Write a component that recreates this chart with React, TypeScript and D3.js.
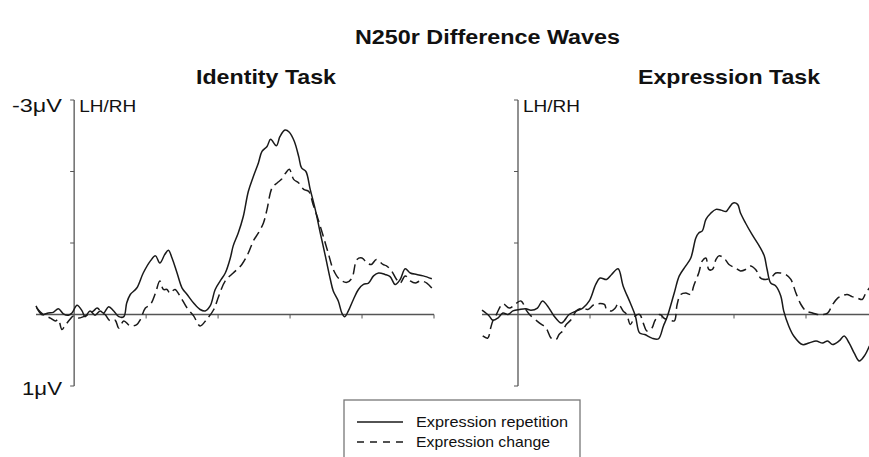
import React from "react";
import * as d3 from "d3";

// amplitudes in microvolts (negative plotted up), time in ms
const identityRepetition: [number, number][] = [
  [-53, -0.12], [-45, 0], [-36, -0.02], [-29, -0.03], [-22, -0.08], [-15, -0.01], [-8, 0.01], [-3, -0.02],
  [4, -0.13], [11, -0.05], [15, 0.03], [22, -0.05], [29, 0.01], [36, -0.05], [41, -0.02], [48, -0.11],
  [55, -0.05], [62, 0.03], [69, 0.03], [73, -0.16], [78, -0.28], [87, -0.37], [96, -0.58], [106, -0.75],
  [113, -0.82], [119, -0.72], [126, -0.84], [131, -0.9], [136, -0.79], [143, -0.58], [150, -0.37], [157, -0.28],
  [166, -0.16], [175, -0.07], [182, -0.05], [189, -0.12], [196, -0.35], [203, -0.47], [210, -0.58], [217, -0.79],
  [221, -0.96], [228, -1.14], [235, -1.37], [242, -1.72], [249, -1.93], [256, -2.12], [261, -2.28], [268, -2.35],
  [273, -2.45], [281, -2.36], [286, -2.49], [293, -2.58], [299, -2.55], [306, -2.42], [312, -2.21], [316, -2.05],
  [322, -2.0], [328, -1.75], [335, -1.47], [342, -1.14], [349, -0.82], [356, -0.49], [360, -0.33], [367, -0.19],
  [372, -0.02], [376, 0.03], [381, -0.05], [388, -0.21], [395, -0.35], [402, -0.42], [409, -0.44], [416, -0.54],
  [423, -0.58], [432, -0.56], [439, -0.53], [446, -0.42], [453, -0.49], [460, -0.64], [467, -0.58], [476, -0.56],
  [485, -0.54], [497, -0.5],
];

const identityChange: [number, number][] = [
  [-52, -0.09], [-43, 0], [-33, 0.05], [-26, 0.09], [-22, 0.07], [-17, 0.21], [-13, 0.16], [-6, 0.07],
  [-1, 0.02], [6, 0.05], [13, 0.03], [20, 0], [27, -0.05], [32, -0.09], [39, -0.02], [43, 0],
  [50, 0.09], [57, 0.08], [62, 0.19], [69, 0.09], [78, 0.16], [87, 0.14], [92, 0.07], [99, -0.09],
  [106, -0.14], [113, -0.3], [119, -0.47], [124, -0.35], [129, -0.35], [133, -0.3], [140, -0.35], [147, -0.26],
  [157, -0.09], [166, 0.02], [175, 0.16], [184, 0.07], [194, -0.07], [201, -0.26], [210, -0.47], [221, -0.58],
  [233, -0.7], [242, -0.86], [249, -1.03], [256, -1.14], [263, -1.28], [268, -1.47], [275, -1.77], [282, -1.84],
  [288, -1.89], [294, -1.98], [299, -2.03], [305, -1.89], [312, -1.84], [319, -1.75], [326, -1.72], [332, -1.54],
  [339, -1.33], [346, -1.1], [353, -0.86], [360, -0.63], [369, -0.49], [379, -0.45], [386, -0.51], [393, -0.77],
  [400, -0.79], [407, -0.72], [413, -0.7], [420, -0.77], [429, -0.7], [434, -0.68], [441, -0.61], [448, -0.49],
  [453, -0.44], [460, -0.54], [467, -0.47], [474, -0.44], [481, -0.47], [490, -0.44], [497, -0.37],
];

const expressionRepetition: [number, number][] = [
  [-50, -0.06], [-40, 0.02], [-35, 0.08], [-28, 0.05], [-21, -0.02], [-14, 0], [-7, -0.05], [2, -0.07],
  [11, -0.08], [18, -0.06], [27, -0.09], [34, -0.19], [41, -0.12], [50, 0.02], [60, 0.12], [64, 0.09],
  [71, 0], [81, -0.05], [90, -0.09], [99, -0.19], [108, -0.42], [114, -0.51], [123, -0.49], [130, -0.56],
  [139, -0.64], [146, -0.4], [156, -0.16], [163, 0.02], [169, 0.26], [176, 0.28], [186, 0.33], [195, 0.34],
  [202, 0.16], [207, 0.04], [217, -0.3], [224, -0.54], [233, -0.68], [240, -0.79], [247, -1.07], [251, -1.14],
  [256, -1.17], [261, -1.33], [268, -1.42], [275, -1.47], [282, -1.46], [289, -1.44], [293, -1.49], [299, -1.56],
  [305, -1.54], [309, -1.42], [316, -1.28], [325, -1.12], [335, -0.96], [342, -0.82], [346, -0.63], [351, -0.44],
  [358, -0.4], [365, -0.26], [369, -0.05], [376, 0.16], [383, 0.3], [395, 0.42], [404, 0.4], [414, 0.37],
  [423, 0.4], [430, 0.37], [437, 0.42], [446, 0.37], [453, 0.3], [460, 0.4], [467, 0.54], [474, 0.65],
  [481, 0.58], [488, 0.44],
];

const expressionChange: [number, number][] = [
  [-49, 0.3], [-42, 0.33], [-38, 0.19], [-35, 0.09], [-31, 0.02], [-21, -0.15], [-12, -0.09], [4, -0.19],
  [11, -0.07], [16, 0], [30, 0.12], [39, 0.19], [46, 0.33], [53, 0.35], [57, 0.28], [62, 0.23],
  [67, 0.14], [74, 0.07], [81, -0.05], [90, -0.09], [97, -0.07], [106, -0.14], [120, -0.14], [123, -0.07],
  [130, -0.05], [135, -0.09], [139, -0.15], [146, -0.05], [151, 0], [156, 0.14], [163, 0.02], [169, 0],
  [174, 0.12], [179, 0.23], [186, 0.19], [190, 0.09], [197, 0], [204, 0.06], [210, 0.07], [217, 0.09],
  [221, -0.14], [226, -0.28], [233, -0.3], [240, -0.28], [244, -0.4], [251, -0.58], [256, -0.75], [261, -0.79],
  [265, -0.63], [270, -0.63], [275, -0.77], [279, -0.82], [286, -0.79], [293, -0.7], [302, -0.65], [309, -0.61],
  [316, -0.63], [323, -0.68], [330, -0.63], [337, -0.51], [344, -0.49], [351, -0.51], [358, -0.58], [365, -0.58],
  [372, -0.56], [379, -0.49], [386, -0.3], [393, -0.14], [400, -0.05], [409, -0.02], [416, 0], [423, 0],
  [430, -0.02], [437, -0.14], [444, -0.23], [450, -0.26], [457, -0.28], [464, -0.25], [471, -0.23], [478, -0.21],
  [483, -0.3], [488, -0.37],
];

const timeTicks = [100, 200, 300, 400, 500];
const voltTicks = [-3, -2, -1, 1];
const seriesNames = ["Expression repetition", "Expression change"];

const W = 869;
const H = 457;
const ink = "#1a1a1a";
const axisColor = "#555";
const font = "Liberation Sans, Arial, sans-serif";

const y = d3.scaleLinear().domain([-3, 1]).range([100, 386]);

const panels = [
  {
    title: "Identity Task",
    titleX: 196,
    titleW: 140,
    x: d3.scaleLinear().domain([-53, 500]).range([36, 434]),
    rep: identityRepetition,
    chg: identityChange,
    showVolts: true,
  },
  {
    title: "Expression Task",
    titleX: 638,
    titleW: 182,
    x: d3.scaleLinear().domain([-50, 500]).range([482, 878]),
    rep: expressionRepetition,
    chg: expressionChange,
    showVolts: false,
  },
];

function Panel({ p }: { p: (typeof panels)[number] }) {
  const x = p.x;
  const line = d3
    .line<[number, number]>()
    .x((d) => x(d[0]))
    .y((d) => y(d[1]))
    .curve(d3.curveCatmullRom.alpha(0.5));
  const x0 = x(0);
  const [d0, d1] = x.domain();
  return (
    <g>
      <text
        x={p.titleX}
        y={84}
        fontFamily={font}
        fontWeight="bold"
        fontSize={21}
        textLength={p.titleW}
        lengthAdjust="spacingAndGlyphs"
        fill="#111"
      >
        {p.title}
      </text>
      {/* zero line */}
      <line x1={x(d0)} x2={x(d1)} y1={y(0)} y2={y(0)} stroke={axisColor} strokeWidth={1.6} />
      {timeTicks.map((t) => (
        <line key={t} x1={x(t)} x2={x(t)} y1={y(0)} y2={y(0) + 4} stroke={axisColor} strokeWidth={1} />
      ))}
      {/* amplitude axis */}
      <line x1={x0} x2={x0} y1={y(-3)} y2={y(1)} stroke={axisColor} strokeWidth={1.3} />
      {voltTicks.map((v) => (
        <line key={v} x1={x0 - 4} x2={x0} y1={y(v)} y2={y(v)} stroke={axisColor} strokeWidth={1} />
      ))}
      <text x={x0 + 5} y={112} fontFamily={font} fontSize={17} textLength={57} lengthAdjust="spacingAndGlyphs" fill="#111">
        LH/RH
      </text>
      {p.showVolts && (
        <>
          <text x={12} y={112} fontFamily={font} fontSize={19} textLength={50} lengthAdjust="spacingAndGlyphs" fill="#111">
            -3μV
          </text>
          <text x={22} y={395} fontFamily={font} fontSize={19} textLength={40} lengthAdjust="spacingAndGlyphs" fill="#111">
            1μV
          </text>
        </>
      )}
      <path d={line(p.chg) ?? ""} fill="none" stroke={ink} strokeWidth={1.5} strokeDasharray="10,5" />
      <path d={line(p.rep) ?? ""} fill="none" stroke={ink} strokeWidth={1.5} />
    </g>
  );
}

export default function App() {
  return (
    <svg
      width={W}
      height={H}
      viewBox={`0 0 ${W} ${H}`}
      style={{ position: "absolute", left: 0, top: 0, background: "#fff" }}
    >
      <rect width={W} height={H} fill="#fff" />
      <text
        x={355}
        y={44}
        fontFamily={font}
        fontWeight="bold"
        fontSize={20}
        textLength={265}
        lengthAdjust="spacingAndGlyphs"
        fill="#111"
      >
        N250r Difference Waves
      </text>
      {panels.map((p) => (
        <Panel key={p.title} p={p} />
      ))}
      {/* legend */}
      <g>
        <rect x={344} y={400} width={236} height={70} fill="#fff" stroke="#777" strokeWidth={1.3} />
        {seriesNames.map((name, i) => (
          <g key={name}>
            <line
              x1={357}
              x2={403}
              y1={422 + i * 20}
              y2={422 + i * 20}
              stroke={ink}
              strokeWidth={1.3}
              strokeDasharray={i === 1 ? "7,6" : undefined}
            />
            <text
              x={416}
              y={427 + i * 20}
              fontFamily={font}
              fontSize={15}
              textLength={i === 0 ? 152 : 134}
              lengthAdjust="spacingAndGlyphs"
              fill="#111"
            >
              {name}
            </text>
          </g>
        ))}
      </g>
    </svg>
  );
}
